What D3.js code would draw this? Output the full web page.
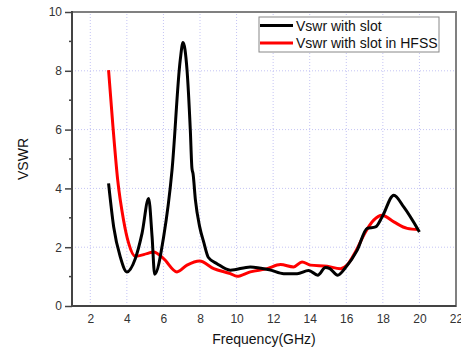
<!DOCTYPE html>
<html>
<head>
<meta charset="utf-8">
<script src="https://cdn.jsdelivr.net/npm/d3@7"></script>
<style>
  body { margin: 0; background: #fff; }
  svg { display: block; font-family: "Liberation Sans", Arial, sans-serif; }
</style>
</head>
<body>
<div id="chart"></div>
<script>
// measured curve, Vswr with slot
const slotFreq = [3.0, 3.28, 3.64, 4.0, 4.46, 4.83, 5.19, 5.38, 5.52, 6.01, 6.47, 6.92, 7.07, 7.29, 7.47, 7.56, 7.62, 7.75, 7.98, 8.2, 8.46, 8.93, 9.66, 10.75, 11.85, 12.58, 13.31, 13.94, 14.44, 14.86, 15.1, 15.53, 15.95, 16.6, 17.14, 17.6, 17.96, 18.6, 19.14, 20.0];
const slotVswr = [4.17, 2.69, 1.67, 1.16, 1.61, 2.47, 3.66, 2.35, 1.08, 2.35, 4.62, 8.37, 8.96, 8.03, 5.99, 4.68, 4.5, 3.6, 2.7, 2.18, 1.65, 1.44, 1.22, 1.33, 1.22, 1.1, 1.1, 1.21, 1.05, 1.31, 1.27, 1.05, 1.3, 1.9, 2.64, 2.69, 3.03, 3.77, 3.37, 2.52];

// simulated curve, Vswr with slot in HFSS
const hfssFreq = [3.0, 3.24, 3.5, 3.82, 4.1, 4.46, 5.1, 5.46, 6.01, 6.74, 7.29, 7.98, 8.75, 9.66, 10.03, 10.75, 11.67, 12.4, 13.12, 13.58, 14.04, 14.95, 15.68, 16.04, 16.5, 17.05, 17.5, 17.96, 18.6, 19.33, 19.96];
const hfssVswr = [8.02, 6.1, 4.28, 2.92, 2.13, 1.69, 1.78, 1.84, 1.61, 1.16, 1.39, 1.53, 1.27, 1.1, 1.01, 1.16, 1.27, 1.41, 1.33, 1.5, 1.39, 1.35, 1.27, 1.39, 1.84, 2.52, 2.92, 3.09, 2.86, 2.64, 2.6];

const seriesNames = ['Vswr with slot', 'Vswr with slot in HFSS'];
const seriesColors = ['#000000', '#ff0000'];
const xTicks = [2, 4, 6, 8, 10, 12, 14, 16, 18, 20, 22];
const yTicks = [0, 2, 4, 6, 8, 10];
const yMinor = [1, 3, 5, 7, 9];

const W = 461, H = 351;
const margin = { top: 12, right: 5, bottom: 45, left: 72 };

const svg = d3.select('#chart').append('svg')
  .attr('width', W)
  .attr('height', H);

svg.append('rect').attr('width', W).attr('height', H).attr('fill', '#fff');

const x = d3.scaleLinear().domain([1, 22]).range([margin.left, W - margin.right]);
const y = d3.scaleLinear().domain([0, 10]).range([H - margin.bottom, margin.top]);

// grid
svg.append('g')
  .selectAll('line')
  .data(xTicks.filter(d => d < 22))
  .enter().append('line')
  .attr('x1', d => x(d)).attr('x2', d => x(d))
  .attr('y1', y(0)).attr('y2', y(10))
  .attr('stroke', '#c4c4f4').attr('stroke-width', 1).attr('stroke-dasharray', '1,2');

svg.append('g')
  .selectAll('line')
  .data(yTicks.filter(d => d > 0 && d < 10))
  .enter().append('line')
  .attr('x1', x(1)).attr('x2', x(22))
  .attr('y1', d => y(d)).attr('y2', d => y(d))
  .attr('stroke', '#c4c4f4').attr('stroke-width', 1).attr('stroke-dasharray', '1,2');

// frame (top / right)
svg.append('rect')
  .attr('x', x(1)).attr('y', y(10))
  .attr('width', x(22) - x(1)).attr('height', y(0) - y(10))
  .attr('fill', 'none').attr('stroke', '#808080').attr('stroke-width', 2);

// lines
const line = d3.line()
  .x(d => x(d[0]))
  .y(d => y(d[1]))
  .curve(d3.curveMonotoneX);

const series = [
  d3.zip(slotFreq, slotVswr),
  d3.zip(hfssFreq, hfssVswr)
];

svg.append('path')
  .datum(series[1])
  .attr('d', line)
  .attr('fill', 'none')
  .attr('stroke', seriesColors[1])
  .attr('stroke-width', 3)
  .attr('stroke-linejoin', 'round');

svg.append('path')
  .datum(series[0])
  .attr('d', line)
  .attr('fill', 'none')
  .attr('stroke', seriesColors[0])
  .attr('stroke-width', 3)
  .attr('stroke-linejoin', 'round');

// y axis
const yAxis = svg.append('g')
  .attr('transform', `translate(${x(1)},0)`)
  .call(d3.axisLeft(y).tickValues(yTicks).tickSize(7).tickPadding(3));
yAxis.select('.domain').remove();
yAxis.selectAll('line').attr('stroke', '#444').attr('stroke-width', 1.5);
yAxis.selectAll('text').attr('font-size', 12).attr('fill', '#333')
  .style('font-family', '"Liberation Sans", Arial, sans-serif');

svg.append('g')
  .selectAll('line')
  .data(yMinor)
  .enter().append('line')
  .attr('x1', x(1) - 3).attr('x2', x(1))
  .attr('y1', d => y(d)).attr('y2', d => y(d))
  .attr('stroke', '#444').attr('stroke-width', 1.5);

// x axis labels
const xAxis = svg.append('g')
  .attr('transform', `translate(0,${y(0)})`)
  .call(d3.axisBottom(x).tickValues(xTicks).tickSize(0).tickPadding(8));
xAxis.select('.domain').remove();
xAxis.selectAll('text').attr('font-size', 12).attr('fill', '#333')
  .style('font-family', '"Liberation Sans", Arial, sans-serif');

// left & bottom axis lines
svg.append('line')
  .attr('x1', x(1)).attr('x2', x(1)).attr('y1', y(10) - 1).attr('y2', y(0) + 1)
  .attr('stroke', '#444').attr('stroke-width', 2);
svg.append('line')
  .attr('x1', x(1) - 1).attr('x2', x(22)).attr('y1', y(0)).attr('y2', y(0))
  .attr('stroke', '#444').attr('stroke-width', 2);

// axis titles
svg.append('text')
  .attr('x', (x(1) + x(22)) / 2).attr('y', 344)
  .attr('text-anchor', 'middle').attr('font-size', 14).attr('fill', '#111')
  .text('Frequency(GHz)');

svg.append('text')
  .attr('transform', `translate(28,${(y(0) + y(10)) / 2}) rotate(-90)`)
  .attr('text-anchor', 'middle').attr('font-size', 14).attr('fill', '#111')
  .text('VSWR');

// legend
const legend = svg.append('g');
legend.append('rect')
  .attr('x', 259).attr('y', 17).attr('width', 180).attr('height', 35)
  .attr('fill', '#fff').attr('stroke', '#888').attr('stroke-width', 1);

seriesNames.forEach((name, i) => {
  const ly = 25.5 + i * 17.5;
  legend.append('line')
    .attr('x1', 260).attr('x2', 293).attr('y1', ly).attr('y2', ly)
    .attr('stroke', seriesColors[i]).attr('stroke-width', 3);
  legend.append('text')
    .attr('x', 296).attr('y', ly + 5)
    .attr('font-size', 14).attr('fill', '#111')
    .text(name);
});
</script>
</body>
</html>
